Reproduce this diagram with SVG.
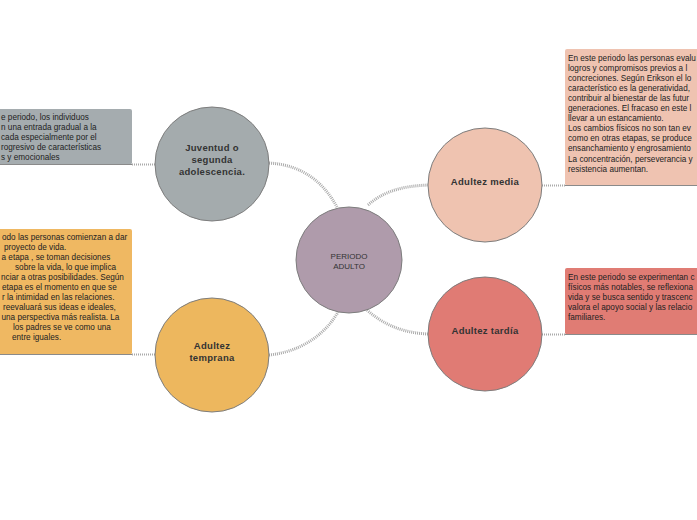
<svg xmlns="http://www.w3.org/2000/svg" width="697" height="520" viewBox="0 0 697 520">
<style>
.node{stroke:#7d7d7d;stroke-width:1}
.nt{font-family:"Liberation Sans",Arial,sans-serif;font-size:9.5px;font-weight:bold;fill:#333;text-anchor:middle;letter-spacing:0.3px}
.ct{font-family:"Liberation Sans",Arial,sans-serif;font-size:8px;fill:#333;text-anchor:middle}
.bt{font-family:"Liberation Sans",Arial,sans-serif;font-size:8.2px;fill:#222}
.box{stroke:none}
.bl{stroke:#8a8a8a;stroke-width:1}
.conn{fill:none;stroke:#aaa;stroke-width:3;stroke-dasharray:1 1}
.dot{fill:none;stroke:#aaa;stroke-width:2;stroke-dasharray:1 1}
</style>
<rect width="697" height="520" fill="#fff"/>
<g id="connectors">
<path class="conn" d="M269,163 C305,165 325,185 337,207"/>
<path class="conn" d="M269,355 C300,352 325,335 338,312"/>
<path class="conn" d="M368,205 C385,190 405,186 428,185"/>
<path class="conn" d="M367,310 C385,326 405,333 428,334"/>
<path class="dot" d="M132,164.5 L155,164.5"/>
<path class="dot" d="M132,354.5 L155,354.5"/>
<path class="dot" d="M542,185.5 L565,185.5"/>
<path class="dot" d="M542,334.5 L565,334.5"/>
</g>
<g id="center">
<circle class="node" cx="349" cy="260" r="53" fill="#af9bab"/>
<text class="ct" x="349" y="259">PERIODO</text>
<text class="ct" x="349" y="269">ADULTO</text>
</g>
<g id="juventud">
<circle class="node" cx="212" cy="164" r="57" fill="#a4abad"/>
<text class="nt" x="212" y="151">Juventud o</text>
<text class="nt" x="212" y="163">segunda</text>
<text class="nt" x="212" y="175">adolescencia.</text>
</g>
<g id="juventud-text">
<rect class="box" x="-5" y="109" width="137" height="55.5" rx="2" fill="#a5acaf"/>
<path class="bl" d="M-5,164.5 L132,164.5"/>
<text class="bt" x="1" y="119.5">e periodo, los individuos</text>
<text class="bt" x="1" y="129.7">n una entrada gradual  a la</text>
<text class="bt" x="1" y="139.9">cada especialmente por el</text>
<text class="bt" x="1" y="150.1">rogresivo de características</text>
<text class="bt" x="1" y="160.3">s y emocionales</text>
</g>
<g id="temprana">
<circle class="node" cx="212" cy="355" r="57" fill="#edb75e"/>
<text class="nt" x="212" y="348.5">Adultez</text>
<text class="nt" x="212" y="360.5">temprana</text>
</g>
<g id="temprana-text">
<rect class="box" x="-5" y="229" width="137" height="125.5" rx="2" fill="#efb862"/>
<path class="bl" d="M-5,354.5 L132,354.5"/>
<text class="bt" x="2" y="240">odo las personas comienzan a dar</text>
<text class="bt" x="4" y="250">proyecto de vida.</text>
<text class="bt" x="1.5" y="260">a etapa , se toman decisiones</text>
<text class="bt" x="15" y="270">sobre la vida, lo que implica</text>
<text class="bt" x="1" y="280">nciar a otras posibilidades. Según</text>
<text class="bt" x="2" y="290">etapa es el momento en que se</text>
<text class="bt" x="2" y="300">r la intimidad en las relaciones.</text>
<text class="bt" x="3" y="310">reevaluará sus ideas e ideales,</text>
<text class="bt" x="1.5" y="320">una perspectiva más realista. La</text>
<text class="bt" x="13" y="330">los padres se ve como una</text>
<text class="bt" x="12" y="340">entre iguales.</text>
</g>
<g id="media">
<circle class="node" cx="485" cy="185" r="57" fill="#efc3b0"/>
<text class="nt" x="485" y="184.5">Adultez media</text>
</g>
<g id="media-text">
<rect class="box" x="565" y="49" width="140" height="136.5" rx="2" fill="#efc3b1"/>
<path class="bl" d="M565,185.5 L705,185.5"/>
<text class="bt" x="568" y="60.5">En este periodo las personas evalu</text>
<text class="bt" x="568" y="70.6">logros y compromisos previos a l</text>
<text class="bt" x="568" y="80.7">concreciones. Según Erikson el lo</text>
<text class="bt" x="568" y="90.8">característico es la generatividad,</text>
<text class="bt" x="568" y="100.9">contribuir al bienestar de las futur</text>
<text class="bt" x="568" y="111">generaciones. El fracaso en este l</text>
<text class="bt" x="568" y="121.1">llevar a un estancamiento.</text>
<text class="bt" x="568" y="131.2">Los cambios físicos no son tan ev</text>
<text class="bt" x="568" y="141.3">como en otras etapas, se produce</text>
<text class="bt" x="568" y="151.4">ensanchamiento y engrosamiento</text>
<text class="bt" x="568" y="161.5">La concentración, perseverancia y</text>
<text class="bt" x="568" y="171.6">resistencia aumentan.</text>
</g>
<g id="tardia">
<circle class="node" cx="485" cy="334" r="57" fill="#e07b74"/>
<text class="nt" x="485" y="333.5">Adultez tardía</text>
</g>
<g id="tardia-text">
<rect class="box" x="565" y="268" width="140" height="66.5" rx="2" fill="#e07c74"/>
<path class="bl" d="M565,334.5 L705,334.5"/>
<text class="bt" x="568" y="279.5">En este periodo se experimentan c</text>
<text class="bt" x="568" y="289.7">físicos más notables, se reflexiona</text>
<text class="bt" x="568" y="299.9">vida y se busca sentido y trascenc</text>
<text class="bt" x="568" y="310.1">valora el apoyo social y las relacio</text>
<text class="bt" x="568" y="320.3">familiares.</text>
</g>
</svg>
